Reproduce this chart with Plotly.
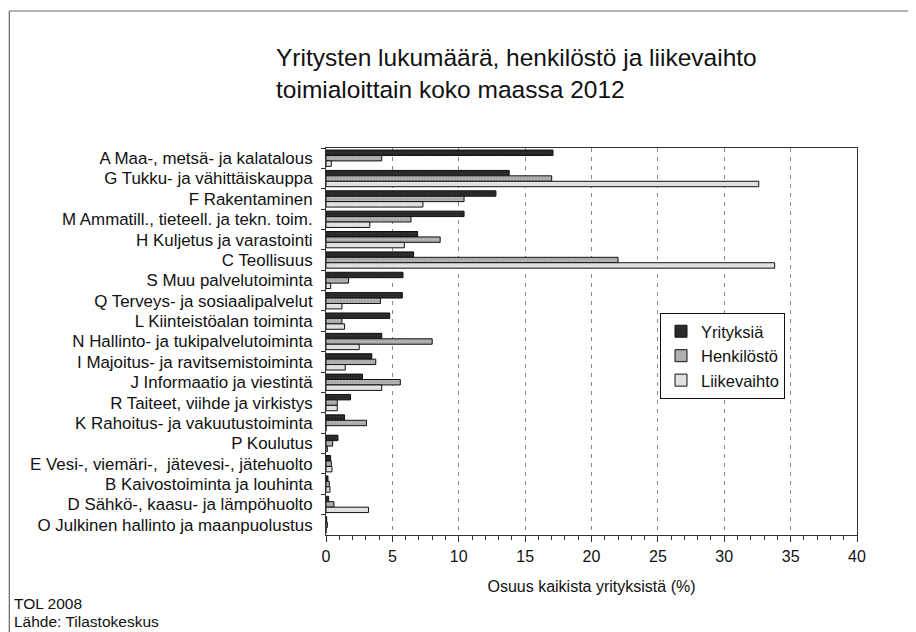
import plotly.graph_objects as go

FONT = "Liberation Sans, Arial, sans-serif"

toimialat = [
    "A Maa-, metsä- ja kalatalous",
    "G Tukku- ja vähittäiskauppa",
    "F Rakentaminen",
    "M Ammatill., tieteell. ja tekn. toim.",
    "H Kuljetus ja varastointi",
    "C Teollisuus",
    "S Muu palvelutoiminta",
    "Q Terveys- ja sosiaalipalvelut",
    "L Kiinteistöalan toiminta",
    "N Hallinto- ja tukipalvelutoiminta",
    "I Majoitus- ja ravitsemistoiminta",
    "J Informaatio ja viestintä",
    "R Taiteet, viihde ja virkistys",
    "K Rahoitus- ja vakuutustoiminta",
    "P Koulutus",
    "E Vesi-, viemäri-,  jätevesi-, jätehuolto",
    "B Kaivostoiminta ja louhinta",
    "D Sähkö-, kaasu- ja lämpöhuolto",
    "O Julkinen hallinto ja maanpuolustus",
]

yrityksia = [17.1, 13.8, 12.8, 10.4, 6.9, 6.6, 5.8, 5.75, 4.8, 4.2,
             3.45, 2.75, 1.85, 1.4, 0.9, 0.35, 0.15, 0.2, 0.05]
henkilosto = [4.2, 17.0, 10.4, 6.4, 8.6, 22.0, 1.7, 4.1, 1.2, 8.0,
              3.75, 5.6, 0.85, 3.05, 0.5, 0.4, 0.25, 0.6, 0.1]
liikevaihto = [0.4, 32.6, 7.3, 3.3, 5.9, 33.8, 0.35, 1.2, 1.4, 2.5,
               1.45, 4.2, 0.85, 0.0, 0.1, 0.45, 0.3, 3.2, 0.0]

x_ticks = [0, 5, 10, 15, 20, 25, 30, 35, 40]

series = [
    ("Yrityksiä", yrityksia, "#262626", "#4a4a4a"),
    ("Henkilöstö", henkilosto, "#a9a9a9", "#d8d8d8"),
    ("Liikevaihto", liikevaihto, "#dedede", "#f4f4f4"),
]

# page body adds 8px on the top/left, so the figure is 8px smaller
W, H = 908, 624
L, R, T, B = 318, 59, 140, 97
pw, ph = W - L - R, H - T - B


def px(x):
    return (x - L) / pw


def py(y):
    return (H - B - y) / ph


fig = go.Figure()
for name, vals, col, dots in series:
    fig.add_trace(go.Bar(
        y=toimialat, x=vals, name=name, orientation="h",
        marker=dict(color=col, line=dict(color="#111111", width=1),
                    pattern=dict(shape=".", fgcolor=dots, bgcolor=col,
                                 size=3, solidity=0.25)),
    ))

fig.update_layout(
    width=W, height=H,
    barmode="group", bargap=0.2, bargroupgap=0,
    paper_bgcolor="white", plot_bgcolor="white",
    font=dict(family=FONT, color="#111111", size=16),
    margin=dict(l=L, r=R, t=T, b=B),
    title=dict(text="Yritysten lukumäärä, henkilöstö ja liikevaihto<br>toimialoittain koko maassa 2012",
               x=268 / W, xanchor="left", xref="container",
               y=1 - 58 / H, yanchor="top", yref="container",
               font=dict(family=FONT, size=24.5, color="#111111")),
    legend=dict(x=px(652), y=py(305), xanchor="left", yanchor="top",
                bgcolor="white", bordercolor="#111111", borderwidth=1,
                font=dict(family=FONT, size=16.5), itemwidth=30,
                tracegroupgap=0),
    showlegend=True,
)

fig.update_xaxes(
    range=[0, 40], tickvals=x_ticks, ticks="outside", ticklen=6,
    tickcolor="#333333", showline=True, linecolor="#333333", mirror=True,
    showgrid=True, gridcolor="#8a8a8a", griddash="4px,5px", gridwidth=1,
    zeroline=False, ticklabelstandoff=1,
    tickfont=dict(family=FONT, size=16),
    minor=dict(dtick=1, ticks="outside", ticklen=4, tickcolor="#333333",
               showgrid=False),
    title=dict(text="Osuus kaikista yrityksistä (%)", standoff=16,
               font=dict(family=FONT, size=16)),
)
fig.update_yaxes(
    autorange="reversed", ticks="outside", ticklen=4, tickcolor="#333333",
    tickson="boundaries", showline=True, linecolor="#333333", mirror=True,
    showgrid=False, ticklabelstandoff=9,
    tickfont=dict(family=FONT, size=16.9),
)

# outer frame of the original figure (open to the right and bottom)
fig.add_shape(type="line", xref="paper", yref="paper",
              x0=px(1.3), x1=px(1.3), y0=py(3), y1=py(H + 5),
              line=dict(color="#666666", width=1.2))
fig.add_shape(type="line", xref="paper", yref="paper",
              x0=px(1.3), x1=px(W + 5), y0=py(3), y1=py(3),
              line=dict(color="#666666", width=1.2))

fig.add_annotation(text="TOL 2008", xref="paper", yref="paper",
                   x=px(4), y=py(595), xanchor="left",
                   yanchor="middle", showarrow=False,
                   font=dict(family=FONT, size=15.5))
fig.add_annotation(text="Lähde: Tilastokeskus", xref="paper", yref="paper",
                   x=px(4), y=py(613), xanchor="left",
                   yanchor="middle", showarrow=False,
                   font=dict(family=FONT, size=15.5))

fig.write_html("out.html")
